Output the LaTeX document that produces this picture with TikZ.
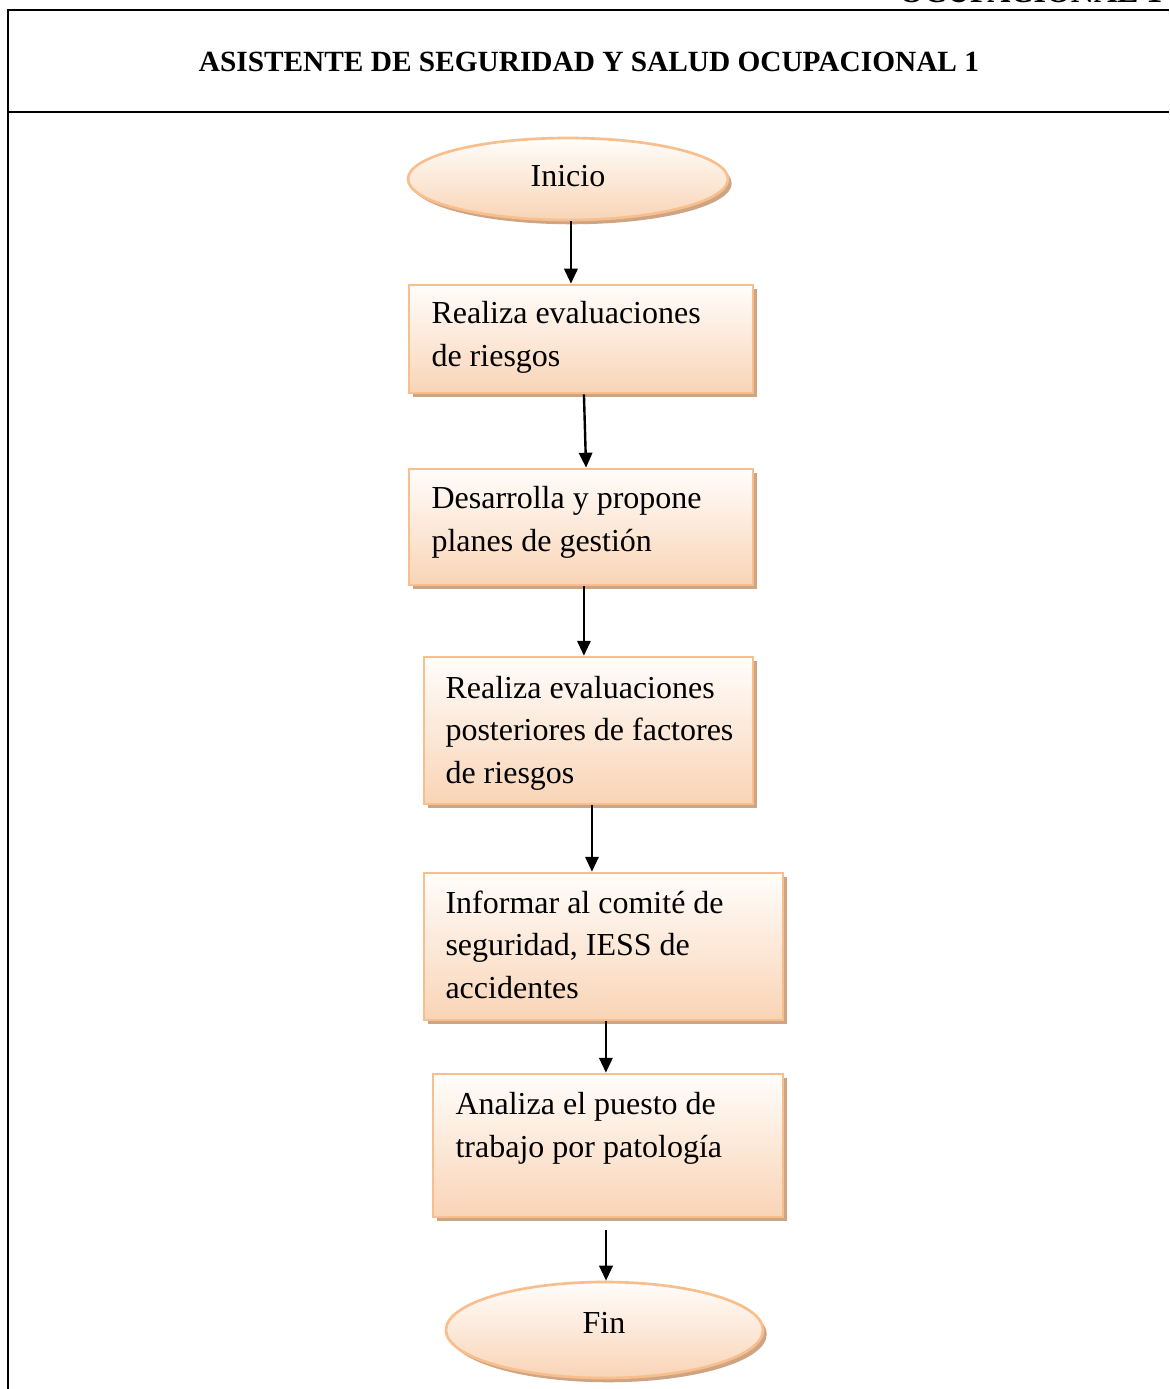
\documentclass[tikz,border=0pt]{standalone}
\usepackage{fontspec}
\setmainfont{Liberation Serif}
\usetikzlibrary{arrows.meta,shadows,shapes.geometric}
\definecolor{edgecol}{RGB}{248,190,140}
\definecolor{fillbot}{RGB}{249,212,182}
\definecolor{filltop}{RGB}{255,253,251}
\definecolor{shadowcol}{RGB}{205,165,132}
\tikzset{
  flowbox/.style={rectangle, draw=edgecol, line width=1pt, top color=filltop, bottom color=fillbot,
    drop shadow={shadow xshift=1.6pt, shadow yshift=-1.6pt, fill=shadowcol, opacity=1}, inner sep=0pt},
  termbox/.style={ellipse, draw=edgecol, line width=1pt, top color=filltop, bottom color=fillbot,
    drop shadow={shadow xshift=1.4pt, shadow yshift=-1.6pt, fill=shadowcol, opacity=1}, inner sep=0pt},
  boxtext/.style={anchor=base west, align=left, inner sep=0pt, font=\fontsize{12pt}{15.9pt}\selectfont},
  arr/.style={-{Triangle[length=5.6pt,width=5pt]}, line width=0.9pt, black},
  frame/.style={line width=0.95pt, black}
}
\begin{document}
\begin{tikzpicture}[x=0.375pt,y=-0.375pt]
\useasboundingbox (0,0) rectangle (1169,1389);
% frame
\draw[frame] (8,1389) -- (8,10) -- (1169,10);
\draw[frame] (8,112) -- (1169,112);
\node[anchor=base east, inner sep=0pt, font=\fontsize{12pt}{14pt}\selectfont\bfseries] (cut) at (1163,2.5) {OCUPACIONAL 1};
\node[anchor=base, inner sep=0pt, font=\fontsize{11pt}{13pt}\selectfont\bfseries] (title) at (589,71) {ASISTENTE DE SEGURIDAD Y SALUD OCUPACIONAL 1};
% terminals
\node[termbox, minimum width=120pt, minimum height=30.75pt] (ini) at (568,179) {};
\node[anchor=base, inner sep=0pt, font=\fontsize{12pt}{14pt}\selectfont] (tini) at (568,186) {Inicio};
\node[termbox, minimum width=118.9pt, minimum height=36pt] (fin) at (604.5,1330) {};
\node[anchor=base, inner sep=0pt, font=\fontsize{12pt}{14pt}\selectfont] (tfin) at (604,1333) {Fin};
% boxes (text anchored at the baseline of its last line)
\node[flowbox, minimum width=129pt, minimum height=40.5pt] (b1) at (581,339) {};
\node[boxtext] (t1) at (431,366) {Realiza evaluaciones\\de riesgos};
\node[flowbox, minimum width=129pt, minimum height=43.5pt] (b2) at (581,527) {};
\node[boxtext] (t2) at (431,551) {Desarrolla y propone\\planes de gestión};
\node[flowbox, minimum width=123.4pt, minimum height=55.1pt] (b3) at (588.5,730.5) {};
\node[boxtext] (t3) at (445,783) {Realiza evaluaciones\\posteriores de factores\\de riesgos};
\node[flowbox, minimum width=134.6pt, minimum height=55.1pt] (b4) at (603.5,946.5) {};
\node[boxtext] (t4) at (445,998) {Informar al comité de\\seguridad, IESS de\\accidentes};
\node[flowbox, minimum width=131.25pt, minimum height=53.6pt] (b5) at (608,1145.5) {};
\node[boxtext] (t5) at (455,1157) {Analiza el puesto de\\trabajo por patología};
% connectors
\draw[arr] ([xshift=1.1pt]ini.south) -- ([xshift=1.1pt]ini.south |- b1.north);
\draw[arr] ([xshift=1.1pt]b1.south) -- ([xshift=1.9pt]b2.north);
\draw[arr] ([xshift=1.1pt]b2.south) -- ([xshift=1.1pt]b2.south |- b3.north);
\draw[arr] ([xshift=1.3pt]b3.south) -- ([xshift=1.3pt]b3.south |- b4.north);
\draw[arr] ([xshift=0.9pt]b4.south) -- ([xshift=0.9pt]b4.south |- b5.north);
\coordinate (c6) at (606,1230);
\draw[arr] (c6) -- (c6 |- fin.north);
\end{tikzpicture}
\end{document}
